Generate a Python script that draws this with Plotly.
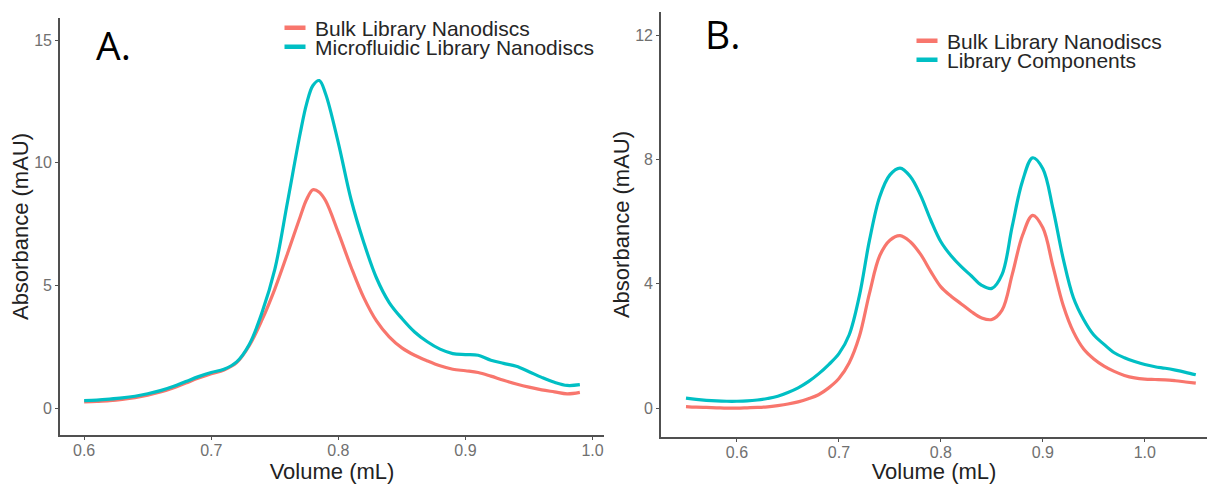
import plotly.graph_objects as go

# ---------------- data ----------------
# Panel A
a_volume = [0.60, 0.61, 0.62, 0.63, 0.64, 0.65, 0.66, 0.67, 0.68, 0.69, 0.70, 0.71,
            0.72, 0.73, 0.74, 0.75, 0.76, 0.77, 0.775, 0.78, 0.785, 0.79, 0.80, 0.81,
            0.82, 0.83, 0.84, 0.85, 0.86, 0.87, 0.88, 0.89, 0.90, 0.91, 0.92, 0.93,
            0.94, 0.95, 0.96, 0.97, 0.98, 0.99]
a_bulk = [0.25, 0.27, 0.30, 0.35, 0.42, 0.52, 0.65, 0.82, 1.02, 1.22, 1.40, 1.55,
          1.85, 2.55, 3.60, 4.85, 6.30, 7.80, 8.50, 8.90, 8.80, 8.45, 7.15, 5.75,
          4.50, 3.55, 2.90, 2.45, 2.15, 1.92, 1.72, 1.58, 1.52, 1.45, 1.30, 1.13,
          0.98, 0.85, 0.74, 0.66, 0.58, 0.64]
a_micro = [0.30, 0.32, 0.36, 0.41, 0.48, 0.58, 0.71, 0.88, 1.08, 1.28, 1.45, 1.58,
           1.88, 2.60, 3.90, 5.65, 8.40, 11.2, 12.4, 13.15, 13.35, 12.80, 10.8, 8.50,
           6.75, 5.30, 4.30, 3.65, 3.10, 2.70, 2.40, 2.22, 2.18, 2.15, 1.95, 1.82,
           1.70, 1.48, 1.25, 1.05, 0.92, 0.95]

# Panel B
b_volume = [0.55, 0.56, 0.57, 0.58, 0.59, 0.60, 0.61, 0.62, 0.63, 0.64, 0.65, 0.66,
            0.67, 0.68, 0.69, 0.70, 0.71, 0.72, 0.73, 0.74, 0.75, 0.76, 0.77, 0.78,
            0.79, 0.80, 0.81, 0.82, 0.83, 0.84, 0.85, 0.86, 0.87, 0.88, 0.89, 0.90,
            0.91, 0.92, 0.93, 0.94, 0.95, 0.96, 0.97, 0.98, 0.99, 1.00, 1.01, 1.02,
            1.03, 1.04, 1.05]
b_bulk = [0.05, 0.03, 0.02, 0.01, 0.00, 0.00, 0.01, 0.02, 0.04, 0.08, 0.13, 0.20,
          0.30, 0.43, 0.65, 0.95, 1.45, 2.30, 3.70, 4.90, 5.40, 5.55, 5.35, 4.95,
          4.40, 3.90, 3.60, 3.35, 3.10, 2.90, 2.85, 3.15, 4.30, 5.55, 6.20, 5.80,
          4.55, 3.30, 2.45, 1.90, 1.58, 1.35, 1.18, 1.05, 0.97, 0.93, 0.92, 0.91,
          0.88, 0.84, 0.80]
b_components = [0.32, 0.28, 0.25, 0.23, 0.22, 0.22, 0.23, 0.26, 0.31, 0.38, 0.50, 0.65,
                0.85, 1.10, 1.40, 1.75, 2.35, 3.60, 5.40, 6.80, 7.50, 7.72, 7.45, 6.85,
                6.05, 5.35, 4.90, 4.55, 4.25, 3.95, 3.85, 4.30, 5.85, 7.30, 8.05, 7.70,
                6.40, 4.80, 3.55, 2.85, 2.35, 2.05, 1.78, 1.62, 1.50, 1.40, 1.33, 1.28,
                1.22, 1.15, 1.07]

a_labels = ["Bulk Library Nanodiscs", "Microfluidic Library Nanodiscs"]
b_labels = ["Bulk Library Nanodiscs", "Library Components"]
a_xticks = [0.6, 0.7, 0.8, 0.9, 1.0]
a_yticks = [0, 5, 10, 15]
b_xticks = [0.6, 0.7, 0.8, 0.9, 1.0]
b_yticks = [0, 4, 8, 12]

RED = "#F8766D"
CYAN = "#00BFC4"
W, H = 1207, 484

fig = go.Figure()

line_kw = dict(mode="lines", line_shape="spline", showlegend=False, hoverinfo="skip")
fig.add_trace(go.Scatter(x=a_volume, y=a_bulk, line=dict(color=RED, width=3.2),
                         xaxis="x", yaxis="y", **line_kw))
fig.add_trace(go.Scatter(x=a_volume, y=a_micro, line=dict(color=CYAN, width=3.2),
                         xaxis="x", yaxis="y", **line_kw))
fig.add_trace(go.Scatter(x=b_volume, y=b_bulk, line=dict(color=RED, width=3.2),
                         xaxis="x2", yaxis="y2", **line_kw))
fig.add_trace(go.Scatter(x=b_volume, y=b_components, line=dict(color=CYAN, width=3.2),
                         xaxis="x2", yaxis="y2", **line_kw))

# legend entries (short thick dash keys, as in the original)
legend_items = [(a_labels[0], RED, "legend", "x", "y"),
                (a_labels[1], CYAN, "legend2", "x", "y"),
                (b_labels[0], RED, "legend3", "x2", "y2"),
                (b_labels[1], CYAN, "legend4", "x2", "y2")]
for name, col, lg, xa, ya in legend_items:
    fig.add_trace(go.Scatter(
        x=[None], y=[None], mode="markers", name=name, legend=lg,
        xaxis=xa, yaxis=ya,
        marker=dict(symbol="line-ew-open", size=15, color=col,
                    line=dict(color=col, width=4.5)),
        showlegend=True))

LEG_FONT = dict(family="Liberation Sans, Arial, sans-serif", size=21, color="#262626")
def leg(xpx, ypx):
    return dict(x=xpx / W, y=1 - ypx / H, xanchor="left", yanchor="middle",
                xref="paper", yref="paper", bgcolor="rgba(0,0,0,0)",
                font=LEG_FONT, itemwidth=30, borderwidth=0)

AX_LINE = "#505050"
TICK_FONT = dict(family="Liberation Sans, Arial, sans-serif", size=16, color="#707070")
TITLE_FONT = dict(family="Liberation Sans, Arial, sans-serif", size=22, color="#222222")

def xaxis(domain, rng, ticks, anchor):
    return dict(domain=domain, range=rng, tickvals=ticks, ticktext=[f"{t:.1f}" for t in ticks],
                showline=True, linecolor=AX_LINE, linewidth=1.6, mirror=False,
                ticks="outside", ticklen=3, tickwidth=1.2, tickcolor=AX_LINE,
                ticklabelstandoff=-3,
                showgrid=False, zeroline=False, tickfont=TICK_FONT, anchor=anchor,
                title=dict(text="Volume (mL)", font=TITLE_FONT, standoff=0))

def yaxis(domain, rng, ticks, anchor):
    return dict(domain=domain, range=rng, tickvals=ticks,
                showline=True, linecolor=AX_LINE, linewidth=1.6, mirror=False,
                ticks="outside", ticklen=3, tickwidth=1.2, tickcolor=AX_LINE,
                showgrid=False, zeroline=False, tickfont=TICK_FONT, anchor=anchor,
                title=dict(text="Absorbance (mAU)", font=TITLE_FONT, standoff=0))

fig.update_layout(
    width=W, height=H,
    margin=dict(l=0, r=0, t=0, b=0),
    paper_bgcolor="white", plot_bgcolor="white",
    xaxis=xaxis([60 / W, 604 / W], [0.581, 1.009], a_xticks, "y"),
    yaxis=yaxis([1 - 435 / H, 1 - 18 / H], [-1.1, 15.9], a_yticks, "x"),
    xaxis2=xaxis([661 / W, 1.0], [0.5255, 1.061], b_xticks, "y2"),
    yaxis2=yaxis([1 - 437 / H, 1 - 12 / H], [-0.93, 12.74], b_yticks, "x2"),
    legend=leg(275, 28),
    legend2=leg(275, 47),
    legend3=leg(907, 41),
    legend4=leg(907, 60),
    annotations=[
        dict(text="A.", x=113 / W, y=1 - 44 / H, xref="paper", yref="paper",
             xanchor="center", yanchor="middle", showarrow=False,
             font=dict(family="Open Sans, sans-serif", size=39, color="black")),
        dict(text="B.", x=722 / W, y=1 - 34 / H, xref="paper", yref="paper",
             xanchor="center", yanchor="middle", showarrow=False,
             font=dict(family="Open Sans, sans-serif", size=39, color="black")),
    ],
)

fig.write_html("out.html", config={"displayModeBar": False},
               post_script="document.body.style.margin='0';")
